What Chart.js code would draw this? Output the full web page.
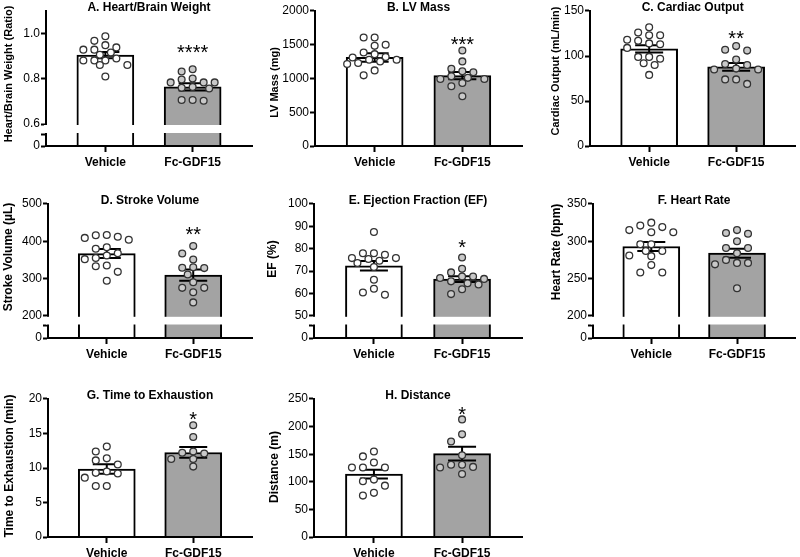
<!DOCTYPE html>
<html>
<head>
<meta charset="utf-8">
<script src="https://cdn.jsdelivr.net/npm/chart.js@4/dist/chart.umd.min.js"></script>
<style>
  html, body { margin: 0; padding: 0; background: #fff; }
  #root { position: relative; width: 800px; height: 557px; overflow: hidden; background: #fff; }
  #root canvas { position: absolute; }
</style>
</head>
<body>
<div id="root"></div>
<script>
// ---------------- DATA ----------------
const categories = ['Vehicle', 'Fc-GDF15'];

// A. Heart/Brain Weight
const aMean = [0.905, 0.764];
const aSem = [0.014, 0.016];
const aVehicle = [0.988, 0.968, 0.949, 0.939, 0.929, 0.929, 0.916, 0.906, 0.89, 0.881, 0.881, 0.881, 0.861, 0.861, 0.81];
const aFc = [0.842, 0.832, 0.801, 0.797, 0.784, 0.784, 0.784, 0.764, 0.76, 0.757, 0.706, 0.706, 0.703];
const aTicks = [0, 0.3, 0.6, 0.8, 1.0];
const aTickLabels = ['0', '', '0.6', '0.8', '1.0'];

// B. LV Mass
const bMean = [1312, 1043];
const bSem = [62, 55];
const bVehicle = [1607, 1607, 1499, 1484, 1386, 1361, 1317, 1312, 1278, 1278, 1253, 1229, 1214, 1120, 1047];
const bFc = [1415, 1253, 1145, 1106, 1091, 1032, 1010, 993, 993, 934, 885, 737];
const bTicks = [0, 500, 1000, 1500, 2000];
const bTickLabels = ['0', '500', '1000', '1500', '2000'];

// C. Cardiac Output
const cMean = [108, 88];
const cSem = [4, 4.3];
const cVehicle = [132, 126, 123, 123, 118, 117, 114, 113, 109, 99, 99, 97, 92, 90, 79];
const cFc = [111, 107, 106, 96, 91, 90, 86, 85, 85, 74, 74, 69];
const cTicks = [0, 50, 100, 150];
const cTickLabels = ['0', '50', '100', '150'];

// D. Stroke Volume
const dMean = [367, 309];
const dSem = [12, 15];
const dVehicle = [417, 416, 412, 409, 404, 384, 380, 368, 362, 355, 352, 335, 333, 318, 294];
const dFc = [387, 367, 351, 330, 329, 328, 311, 290, 275, 275, 263, 236];
const dTicks = [0, 100, 200, 300, 400, 500];
const dTickLabels = ['0', '', '200', '300', '400', '500'];

// E. Ejection Fraction (EF)
const eMean = [72.4, 66.4];
const eSem = [2.1, 1.3];
const eVehicle = [87.5, 78, 78, 77.3, 75.8, 75.8, 75.4, 74.6, 73.6, 71.8, 66.1, 62.1, 60.4, 59.4];
const eFc = [76.1, 71, 69.4, 67.6, 67.6, 66.9, 66.5, 65.4, 64.6, 64, 61.9, 59.7];
const eTicks = [0, 25, 50, 60, 70, 80, 90, 100];
const eTickLabels = ['0', '', '50', '60', '70', '80', '90', '100'];

// F. Heart Rate
const fMean = [293, 284];
const fSem = [6, 6];
const fVehicle = [325, 321, 319, 315, 312, 312, 296, 296, 287, 287, 281, 280, 268, 258, 258];
const fFc = [315, 311, 310, 300, 291, 291, 284, 275, 271, 271, 269, 237];
const fTicks = [0, 100, 200, 250, 300, 350];
const fTickLabels = ['0', '', '200', '250', '300', '350'];

// G. Time to Exhaustion
const gMean = [9.85, 12.25];
const gSem = [0.68, 0.78];
const gVehicle = [13.1, 12.4, 11.4, 11.1, 10.5, 9.5, 9.3, 9.2, 8.6, 7.4, 7.4];
const gFc = [16.2, 14.5, 12.4, 12.2, 12.1, 11.3, 11.3, 10.2];
const gTicks = [0, 5, 10, 15, 20];
const gTickLabels = ['0', '5', '10', '15', '20'];

// H. Distance
const hMean = [114, 151];
const hSem = [8, 12.3];
const hVehicle = [155, 146, 135, 126, 126, 126, 104, 101, 93, 80, 75];
const hFc = [213, 186, 173, 148, 131, 131, 127, 126, 114];
const hTicks = [0, 50, 100, 150, 200, 250];
const hTickLabels = ['0', '50', '100', '150', '200', '250'];

const panelTitles = ['A. Heart/Brain Weight', 'B. LV Mass', 'C. Cardiac Output', 'D. Stroke Volume',
  'E. Ejection Fraction (EF)', 'F. Heart Rate', 'G. Time to Exhaustion', 'H. Distance'];
const yTitles = ['Heart/Brain Weight (Ratio)', 'LV Mass (mg)', 'Cardiac Output (mL/min)', 'Stroke Volume (\u00B5L)',
  'EF (%)', 'Heart Rate (bpm)', 'Time to Exhaustion (min)', 'Distance (m)'];
const sigLabels = ['****', '***', '**', '**', '*', '', '*', '*'];

// ---------------- STYLE / LAYOUT ----------------
const FONT = "'Liberation Sans', Arial, Helvetica, sans-serif";
Chart.defaults.font.family = FONT;
Chart.defaults.color = '#000';

const barFill = ['#ffffff', '#a3a3a3'];
const pointFill = ['#ffffff', '#c9c9c9'];
const pointEdge = '#333333';

const panels = [
  {title: 0, mean: aMean, sem: aSem, groups: [aVehicle, aFc], ticks: aTicks, labels: aTickLabels, max: 1.1, brk: {low: 0.3, high: 0.6, lowPx: 12, gapPx: 10},
   box: {left: 0, top: 0, w: 265, h: 176, padL: 2, yW: 44, padR: 13, sigGap: 22, ytSize: 11, ytShift: -4.5}},
  {title: 1, mean: bMean, sem: bSem, groups: [bVehicle, bFc], ticks: bTicks, labels: bTickLabels, max: 2000, brk: null,
   box: {left: 265, top: 0, w: 265, h: 176, padL: 3, yW: 47, padR: 8, sigGap: 11, ytSize: 11, ytShift: 4}},
  {title: 2, mean: cMean, sem: cSem, groups: [cVehicle, cFc], ticks: cTicks, labels: cTickLabels, max: 150, brk: null,
   box: {left: 530, top: 0, w: 270, h: 176, padL: 19, yW: 41, padR: 3, sigGap: 13, ytSize: 11, ytShift: -7.5}},
  {title: 3, mean: dMean, sem: dSem, groups: [dVehicle, dFc], ticks: dTicks, labels: dTickLabels, max: 500, brk: {low: 100, high: 200, lowPx: 12.5, gapPx: 9.7},
   box: {left: 0, top: 193, w: 265, h: 175, padL: 1, yW: 47, padR: 13, sigGap: 17, ytSize: 12, ytShift: -14}},
  {title: 4, mean: eMean, sem: eSem, groups: [eVehicle, eFc], ticks: eTicks, labels: eTickLabels, max: 100, brk: {low: 25, high: 50, lowPx: 12.5, gapPx: 9.7},
   box: {left: 265, top: 193, w: 265, h: 175, padL: 0, yW: 49, padR: 8, sigGap: 15, ytSize: 12, ytShift: -12}},
  {title: 5, mean: fMean, sem: fSem, groups: [fVehicle, fFc], ticks: fTicks, labels: fTickLabels, max: 350, brk: {low: 100, high: 200, lowPx: 12.5, gapPx: 9.7},
   box: {left: 530, top: 193, w: 270, h: 175, padL: 19, yW: 44, padR: 3, sigGap: 14, ytSize: 12, ytShift: -19}},
  {title: 6, mean: gMean, sem: gSem, groups: [gVehicle, gFc], ticks: gTicks, labels: gTickLabels, max: 20, brk: null,
   box: {left: 0, top: 388, w: 265, h: 179, padL: 2, yW: 46, padR: 13, sigGap: 11, ytSize: 12, ytShift: -2}},
  {title: 7, mean: hMean, sem: hSem, groups: [hVehicle, hFc], ticks: hTicks, labels: hTickLabels, max: 250, brk: null,
   box: {left: 265, top: 388, w: 265, h: 179, padL: 2, yW: 47, padR: 8, sigGap: 10, ytSize: 12, ytShift: -1}},
];

// ---------------- BROKEN-AXIS SCALE ----------------
const LinearScale = Chart.registry.getScale('linear');
class BrokenScale extends LinearScale {
  _brk() { const b = this.options.brk; return (b && b.high !== undefined) ? b : null; }
  getPixelForValue(value) {
    const b = this._brk();
    if (!b || value === null || value === undefined || isNaN(value)) return super.getPixelForValue(value);
    const H = this._length;
    const f1 = b.lowPx / H, f2 = (b.lowPx + b.gapPx) / H;
    let d;
    if (value <= b.low) d = (value - this.min) / (b.low - this.min) * f1;
    else if (value < b.high) d = f1 + (value - b.low) / (b.high - b.low) * (f2 - f1);
    else d = f2 + (value - b.high) / (this.max - b.high) * (1 - f2);
    return this.getPixelForDecimal(d);
  }
  getValueForPixel(pixel) {
    const b = this._brk();
    if (!b) return super.getValueForPixel(pixel);
    const H = this._length;
    const f1 = b.lowPx / H, f2 = (b.lowPx + b.gapPx) / H;
    const d = this.getDecimalForPixel(pixel);
    if (d <= f1) return this.min + d / f1 * (b.low - this.min);
    if (d < f2) return b.low + (d - f1) / (f2 - f1) * (b.high - b.low);
    return b.high + (d - f2) / (1 - f2) * (this.max - b.high);
  }
  drawTitle() {
    const shift = this.options.titleShift || 0;
    this.ctx.save();
    this.ctx.translate(0, shift);
    super.drawTitle();
    this.ctx.restore();
  }
}
BrokenScale.id = 'brokenLinear';
BrokenScale.defaults = LinearScale.defaults;
Chart.register(BrokenScale);

// ---------------- PLUGIN: error bars, axis break, significance ----------------
const extrasPlugin = {
  id: 'extras',
  afterDatasetDraw(chart, args, opts) {
    if (args.meta.type !== 'bar') return;
    const p = opts.panel;
    const xs = chart.scales.x, ys = chart.scales.y, ctx = chart.ctx;
    ctx.save();
    ctx.strokeStyle = '#000';
    ctx.lineWidth = 2;
    p.mean.forEach((m, i) => {
      const x = xs.getPixelForValue(i);
      const yt = ys.getPixelForValue(m + p.sem[i]);
      const yb = ys.getPixelForValue(m - p.sem[i]);
      ctx.beginPath();
      ctx.moveTo(x, yt); ctx.lineTo(x, yb);
      ctx.moveTo(x - 14, yt); ctx.lineTo(x + 14, yt);
      ctx.moveTo(x - 14, yb); ctx.lineTo(x + 14, yb);
      ctx.stroke();
    });
    ctx.restore();
  },
  afterDraw(chart, args, opts) {
    const p = opts.panel;
    const xs = chart.scales.x, ys = chart.scales.y, ctx = chart.ctx, ca = chart.chartArea;
    ctx.save();
    if (p.brk) {
      const yHi = ys.getPixelForValue(p.brk.high);
      const yLo = ys.getPixelForValue(p.brk.low);
      ctx.fillStyle = '#fff';
      ctx.fillRect(ca.left - 2, yHi + 1, ca.right - ca.left + 2, (yLo - 1) - (yHi + 1));
    }
    const s = sigLabels[p.title];
    if (s) {
      const i = 1;
      const topVal = Math.max(Math.max(...p.groups[i]), p.mean[i] + p.sem[i]);
      const y = ys.getPixelForValue(topVal) - p.box.sigGap;
      ctx.fillStyle = '#000';
      ctx.font = "20px " + FONT;
      ctx.textAlign = 'center';
      ctx.textBaseline = 'alphabetic';
      ctx.fillText(s, xs.getPixelForValue(i), y + 0.57 * 20);
    }
    ctx.restore();
  }
};

// ---------------- BUILD ----------------
const root = document.getElementById('root');
const charts = [];

panels.forEach((p) => {
  const b = p.box;
  const cv = document.createElement('canvas');
  cv.width = b.w; cv.height = b.h;
  cv.style.left = b.left + 'px'; cv.style.top = b.top + 'px';
  cv.style.width = b.w + 'px'; cv.style.height = b.h + 'px';
  root.appendChild(cv);

  const datasets = [
    ...p.groups.map((vals, g) => ({
      type: 'scatter',
      label: categories[g] + ' points',
      data: vals.map(v => ({x: g, y: v})),
      pointRadius: 3.4,
      pointHoverRadius: 3.4,
      pointBorderWidth: 1.3,
      pointBackgroundColor: pointFill[g],
      pointBorderColor: pointEdge,
      showLine: false,
      order: 0
    })),
    {
      type: 'bar',
      label: 'Mean',
      data: p.mean.map((m, i) => ({x: i, y: m})),
      backgroundColor: barFill,
      borderColor: '#000',
      borderWidth: 2,
      barThickness: 57,
      order: 2
    }
  ];

  const chart = new Chart(cv, {
    type: 'bar',
    data: {datasets},
    options: {
      responsive: false,
      animation: false,
      devicePixelRatio: 1,
      layout: {padding: {left: b.padL, right: b.padR, top: 0, bottom: 0}},
      plugins: {
        legend: {display: false},
        tooltip: {enabled: false},
        title: {
          display: true,
          text: panelTitles[p.title],
          fullSize: false,
          color: '#000',
          font: {size: 12, weight: 'bold', family: FONT},
          padding: {top: 0, bottom: -3.4}
        },
        extras: {panel: p}
      },
      scales: {
        x: {
          type: 'linear',
          min: -0.68,
          max: 1.68,
          offset: false,
          afterBuildTicks: (s) => { s.ticks = categories.map((c, i) => ({value: i})); },
          afterFit: (s) => { s.height = 30; },
          ticks: {
            autoSkip: false,
            maxRotation: 0,
            padding: 3,
            color: '#000',
            font: {size: 12, weight: 'bold', family: FONT},
            callback: (v, i) => categories[i]
          },
          grid: {drawOnChartArea: false, drawTicks: true, tickLength: 6, tickWidth: 2, tickColor: '#000', offset: false},
          border: {display: true, color: '#000', width: 2, z: 1}
        },
        y: {
          type: 'brokenLinear',
          min: 0,
          max: p.max,
          bounds: 'data',
          brk: p.brk,
          titleShift: b.ytShift,
          afterBuildTicks: (s) => { s.ticks = p.ticks.map(v => ({value: v})); },
          afterFit: (s) => { s.width = b.yW; },
          ticks: {
            autoSkip: false,
            padding: 1,
            color: '#000',
            font: {size: 12, family: FONT},
            callback: (v, i) => p.labels[i]
          },
          title: {
            display: true,
            text: yTitles[p.title],
            color: '#000',
            font: {size: b.ytSize, weight: 'bold', family: FONT},
            padding: 0
          },
          grid: {drawOnChartArea: false, drawTicks: true, tickLength: 5, tickWidth: 2, tickColor: '#000'},
          border: {display: true, color: '#000', width: 2, z: 1}
        }
      }
    },
    plugins: [extrasPlugin]
  });
  charts.push({chart, p});
});

// ---------------- point arrangement (greedy column scatter, like Prism) ----------------
const MIN_DIST = 7.5;  // px: minimum centre distance between two points
const COL_STEP = 11;   // px between neighbouring columns
const CANDIDATES = [0, -1, 1, -0.5, 0.5, -2, 2, -1.5, 1.5, -2.5, 2.5];
charts.forEach(({chart, p}) => {
  const xs = chart.scales.x, ys = chart.scales.y;
  const unit = xs.getPixelForValue(1) - xs.getPixelForValue(0);
  p.groups.forEach((vals, g) => {
    const data = chart.data.datasets[g].data;
    const order = vals.map((v, i) => i).sort((a, b) => vals[b] - vals[a]);
    const placed = [];
    order.forEach((i) => {
      const py = ys.getPixelForValue(vals[i]);
      let chosen = null, bestGap = -1, bestC = 0;
      for (const c of CANDIDATES) {
        const px = c * COL_STEP;
        let nearest = Infinity;
        placed.forEach(q => { nearest = Math.min(nearest, Math.hypot(q.px - px, q.py - py)); });
        if (nearest >= MIN_DIST) { chosen = c; break; }
        if (nearest > bestGap) { bestGap = nearest; bestC = c; }
      }
      if (chosen === null) chosen = bestC;
      placed.push({px: chosen * COL_STEP, py});
      data[i].x = g + chosen * COL_STEP / unit;
    });
  });
  chart.update('none');
});
</script>
</body>
</html>
